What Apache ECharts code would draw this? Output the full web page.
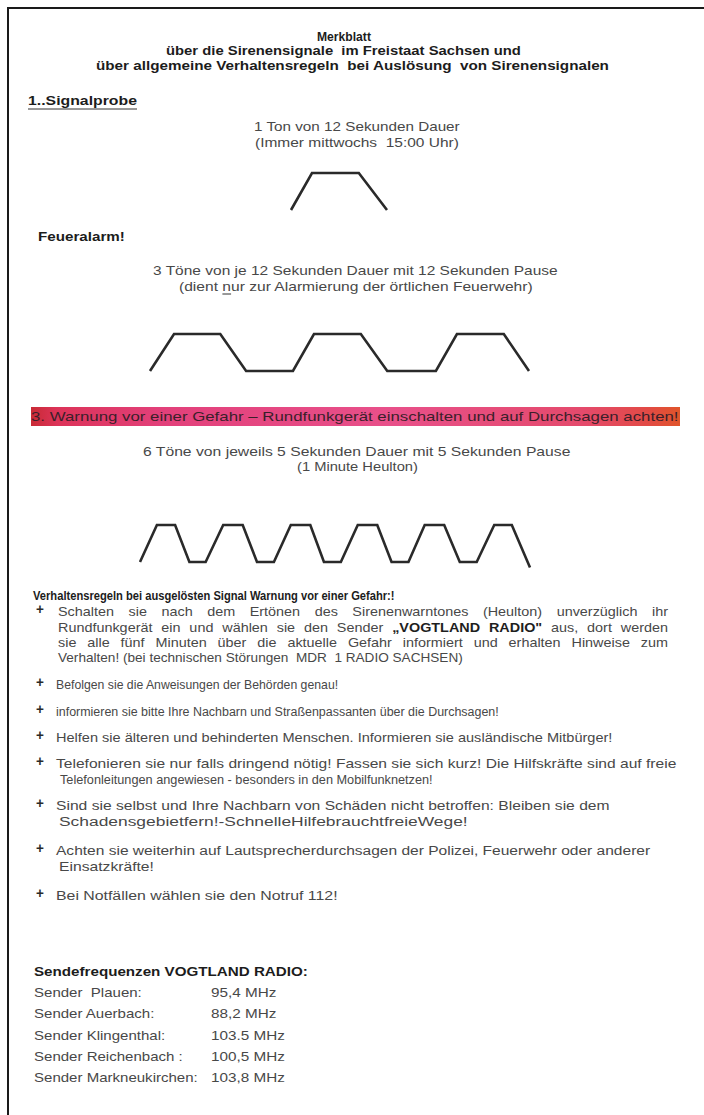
<!DOCTYPE html>
<html><head><meta charset="utf-8">
<script src="https://cdn.jsdelivr.net/npm/echarts@6/dist/echarts.min.js"></script>
<style>html,body{margin:0;padding:0;background:#fff}#c{width:704px;height:1115px}</style>
</head><body><div id="c"></div>
<script>
// ---------- DATA ----------
// Signal 1: Signalprobe (1 tone)
const probeTime  = [0, 3.5, 11.3, 16];
const probeLevel = [0, 1, 1, 0];
// Signal 2: Feueralarm (3 tones, pauses)
const fireTime  = [0, 4, 11.7, 16, 23.8, 27.3, 35.1, 39.5, 47.6, 51.1, 58.9, 63.1];
const fireLevel = [0, 1, 1, 0, 0, 1, 1, 0, 0, 1, 1, 0];
// Signal 3: Warnung (6 tones, 1 minute Heulton)
const warnTime  = [0, 2.6, 5.4, 7.6, 10.1, 12.8, 15.8, 18, 20.6, 23.2, 26.2, 28.3, 30.9, 33.5, 36.5, 38.7, 41.3, 43.8, 46.8, 49.2, 51.8, 54.5, 57.2, 60];
const warnLevel = [0, 1, 1, 0, 0, 1, 1, 0, 0, 1, 1, 0, 0, 1, 1, 0, 0, 1, 1, 0, 0, 1, 1, -0.15];

const titleLines = ['Merkblatt',
  'über die Sirenensignale  im Freistaat Sachsen und',
  'über allgemeine Verhaltensregeln  bei Auslösung  von Sirenensignalen'];
const section1 = '1..Signalprobe';
const probeText = ['1 Ton von 12 Sekunden Dauer', '(Immer mittwochs  15:00 Uhr)'];
const section2 = 'Feueralarm!';
const fireText = ['3 Töne von je 12 Sekunden Dauer mit 12 Sekunden Pause', '(dient nur zur Alarmierung der örtlichen Feuerwehr)'];
const section3 = '3. Warnung vor einer Gefahr – Rundfunkgerät einschalten und auf Durchsagen achten!';
const warnText = ['6 Töne von jeweils 5 Sekunden Dauer mit 5 Sekunden Pause', '(1 Minute Heulton)'];
const rulesTitle = 'Verhaltensregeln bei ausgelösten Signal Warnung vor einer Gefahr:!';
const rule1 = ['Schalten sie nach dem Ertönen des Sirenenwarntones (Heulton) unverzüglich ihr',
  'Rundfunkgerät ein und wählen sie den Sender *„VOGTLAND *RADIO" aus, dort werden',
  'sie alle fünf Minuten über die aktuelle Gefahr informiert und erhalten Hinweise zum',
  'Verhalten! (bei technischen Störungen  MDR  1 RADIO SACHSEN)'];
const rules = [
  ['Befolgen sie die Anweisungen der Behörden genau!'],
  ['informieren sie bitte Ihre Nachbarn und Straßenpassanten über die Durchsagen!'],
  ['Helfen sie älteren und behinderten Menschen. Informieren sie ausländische Mitbürger!'],
  ['Telefonieren sie nur falls dringend nötig! Fassen sie sich kurz! Die Hilfskräfte sind auf freie',
   'Telefonleitungen angewiesen - besonders in den Mobilfunknetzen!'],
  ['Sind sie selbst und Ihre Nachbarn von Schäden nicht betroffen: Bleiben sie dem',
   'Schadensgebietfern!-SchnelleHilfebrauchtfreieWege!'],
  ['Achten sie weiterhin auf Lautsprecherdurchsagen der Polizei, Feuerwehr oder anderer',
   'Einsatzkräfte!'],
  ['Bei Notfällen wählen sie den Notruf 112!']
];
const freqTitle = 'Sendefrequenzen VOGTLAND RADIO:';
const senderNames = ['Sender  Plauen:', 'Sender Auerbach:', 'Sender Klingenthal:', 'Sender Reichenbach :', 'Sender Markneukirchen:'];
const senderFreqs = ['95,4 MHz', '88,2 MHz', '103.5 MHz', '100,5 MHz', '103,8 MHz'];

// ---------- LAYOUT HELPERS ----------
const FONT = '"Liberation Sans", Arial, sans-serif';
const mctx = document.createElement('canvas').getContext('2d');
const fontStr = (s, b) => (b ? 'bold ' : '') + s + 'px ' + FONT;
const measure = (t, s, b) => { mctx.font = fontStr(s, b); return mctx.measureText(t).width; };
const els = [];
function textEl(t, x, y, s, b, color, sx) {
  els.push({ type: 'text', x: x, y: y, scaleX: sx || 1, silent: true, z: 10,
    style: { text: t, x: 0, y: 0, font: fontStr(s, b), fill: color,
      textAlign: 'left', textVerticalAlign: 'middle', align: 'left', verticalAlign: 'middle' } });
}
// fit text to span x0..x1
function fit(t, x0, x1, y, s, b, color) {
  const w = measure(t, s, b);
  const sx = (x1 - x0) / w;
  textEl(t, x0, y, s, b, color, sx);
  return sx;
}
// justified line, words starting with * are bold
function justify(line, x0, x1, y, s, color, wsx) {
  const words = line.split(/\s+/).map(w => w[0] === '*' ? { t: w.slice(1), b: true } : { t: w, b: false });
  const ws = words.map(w => measure(w.t, s, w.b));
  const tot = ws.reduce((a, c) => a + c, 0);
  let sx = wsx || 1;
  let gap = (x1 - x0 - tot * sx) / (words.length - 1);
  if (gap < 2) { sx = (x1 - x0 - 2 * (words.length - 1)) / tot; gap = 2; }
  let x = x0;
  words.forEach((w, i) => { textEl(w.t, x, y, s, w.b, w.b ? '#1e1e1e' : color, sx); x += ws[i] * sx + gap; });
}
function hline(x1, x2, y, w, c) {
  els.push({ type: 'line', silent: true, z: 10, shape: { x1: x1, y1: y, x2: x2, y2: y }, style: { stroke: c, lineWidth: w } });
}
function vline(x, y1, y2, w, c) {
  els.push({ type: 'line', silent: true, z: 10, shape: { x1: x, y1: y1, x2: x, y2: y2 }, style: { stroke: c, lineWidth: w } });
}
const DARK = '#1c1c1c', BODY = '#484848';

// border
hline(7, 704, 8, 2, '#1a1a1a');
vline(8, 7, 1115, 2, '#1a1a1a');

// title
fit(titleLines[0], 317, 371, 37, 12.5, true, DARK);
fit(titleLines[1], 166, 521, 51, 12.5, true, DARK);
fit(titleLines[2], 96, 610, 66, 12.5, true, DARK);

// section 1
fit(section1, 28, 137, 101, 12.5, true, DARK);
hline(28, 137, 109, 1, '#333');
fit(probeText[0], 254, 460, 127, 12.5, false, BODY);
fit(probeText[1], 255, 459, 143, 12.5, false, BODY);

// section 2
fit(section2, 38, 125, 237, 12, true, DARK);
fit(fireText[0], 153, 558, 271, 12.5, false, BODY);
const sxF = fit(fireText[1], 179, 534, 287, 12.5, false, BODY);
{ const pre = measure('(dient ', 12.5, false) * sxF, nw = measure('n', 12.5, false) * sxF;
  hline(179 + pre, 179 + pre + nw, 294, 1, '#333'); }

// section 3 bar
els.push({ type: 'rect', silent: true, z: 5, shape: { x: 31, y: 407, width: 649, height: 19 },
  style: { fill: new echarts.graphic.LinearGradient(0, 0, 1, 0, [
    { offset: 0, color: '#c92a35' }, { offset: 0.04, color: '#dc3358' }, { offset: 0.2, color: '#e2407a' },
    { offset: 0.55, color: '#e8508a' }, { offset: 0.85, color: '#e44a6c' }, { offset: 0.95, color: '#e24a45' },
    { offset: 1, color: '#e0552a' }]) } });
fit(section3, 31, 679, 416.5, 13, false, '#3b1f2a');
fit(warnText[0], 143, 571, 452, 12.5, false, BODY);
fit(warnText[1], 297, 418, 467, 12.5, false, BODY);

// rules
fit(rulesTitle, 33, 395, 596, 13.5, true, DARK);
const plus = (y) => textEl('+', 36, y - 3, 15, true, '#2a2a2a', 0.9);
plus(612);
justify(rule1[0], 58, 668, 612, 12, BODY, 1.2);
justify(rule1[1], 58, 668, 628, 12, BODY, 1.2);
justify(rule1[2], 58, 668, 643, 12, BODY, 1.2);
fit(rule1[3], 58, 463, 658, 12, false, BODY);
const ruleLayout = [
  [[56, 339, 685]],
  [[56, 499, 712]],
  [[56, 613, 738]],
  [[56, 677, 764], [60, 433, 780]],
  [[56, 610, 806], [59, 468, 822]],
  [[56, 651, 851], [59, 154, 867]],
  [[56, 338, 896]]
];
rules.forEach((lines, i) => {
  plus(ruleLayout[i][0][2]);
  lines.forEach((l, j) => { const p = ruleLayout[i][j]; fit(l, p[0], p[1], p[2], 12, false, BODY); });
});

// frequencies
fit(freqTitle, 34, 308, 972, 12.5, true, DARK);
const nameSx = (198 - 34) / measure(senderNames[4], 12, false);
const freqSx = (285 - 211) / measure(senderFreqs[4], 12, false);
senderNames.forEach((n, i) => {
  const y = 993 + i * 21.3;
  textEl(n, 34, y, 12, false, BODY, nameSx);
  textEl(senderFreqs[i], 211, y, 12, false, BODY, freqSx);
});

// ---------- CHART ----------
const zip = (a, b) => a.map((v, i) => [v, b[i]]);
const waves = [
  { t: probeTime, l: probeLevel, left: 291, top: 173, width: 96 },
  { t: fireTime, l: fireLevel, left: 150, top: 334, width: 379 },
  { t: warnTime, l: warnLevel, left: 140, top: 525, width: 390 }
];
const chart = echarts.init(document.getElementById('c'), null, { renderer: 'svg' });
chart.setOption({
  animation: false,
  backgroundColor: '#ffffff',
  grid: waves.map(w => ({ left: w.left, top: w.top, width: w.width, height: 37 })),
  xAxis: waves.map((w, i) => ({ type: 'value', gridIndex: i, min: 0, max: w.t[w.t.length - 1], show: false })),
  yAxis: waves.map((w, i) => ({ type: 'value', gridIndex: i, min: 0, max: 1, show: false })),
  series: waves.map((w, i) => ({
    type: 'line', xAxisIndex: i, yAxisIndex: i, data: zip(w.t, w.l), symbol: 'none', clip: false,
    lineStyle: { color: '#2a2a2a', width: 2.6, join: 'miter', cap: 'butt' }, silent: true
  })),
  graphic: { elements: els }
});
</script></body></html>
